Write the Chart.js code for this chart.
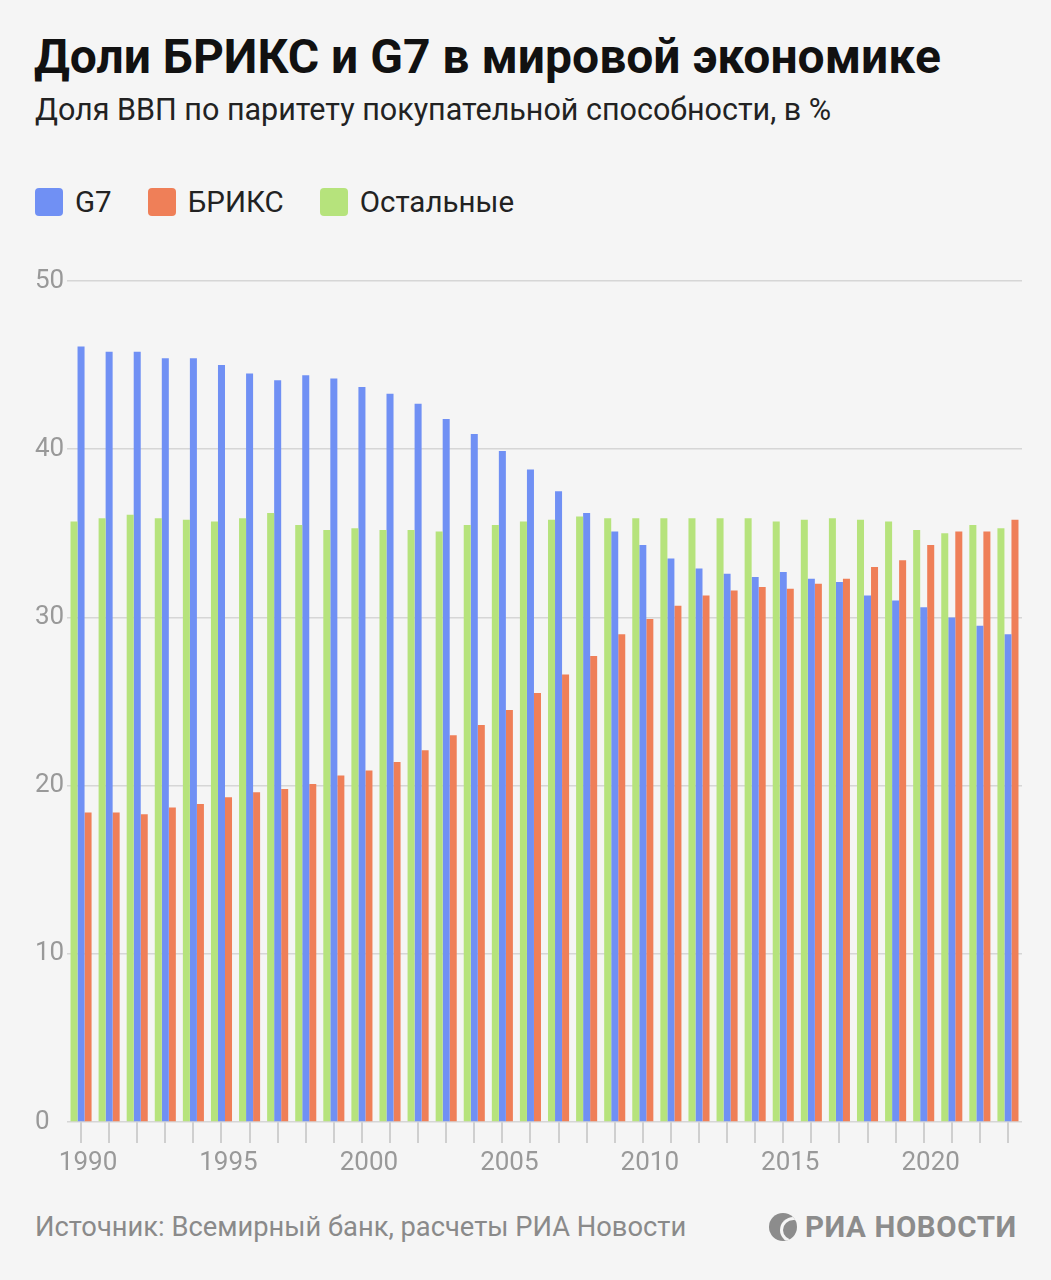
<!DOCTYPE html>
<html lang="ru">
<head>
<meta charset="utf-8">
<script src="https://cdn.jsdelivr.net/npm/chart.js@4.4.1/dist/chart.umd.min.js"></script>
<style>
  html, body { margin:0; padding:0; background:#f5f5f5; }
  body { width:1051px; height:1280px; position:relative; overflow:hidden; font-family: Roboto, "Noto Sans", sans-serif; }
  #title { position:absolute; left:34px; top:28px; font-size:48px; font-weight:700; color:#111; white-space:nowrap; }
  #subtitle { position:absolute; left:35px; top:92px; font-size:30.5px; color:#222; white-space:nowrap; }
  #legend { position:absolute; left:35px; top:185px; display:flex; align-items:center; font-size:29.5px; color:#222; }
  .li { display:flex; align-items:center; margin-right:36px; }
  .sw { width:28px; height:28px; border-radius:4px; margin-right:12px; }
  #wrap { position:absolute; left:0; top:250px; width:1051px; height:940px; }
  #source { position:absolute; left:35px; top:1211px; font-size:27.3px; color:#8a8a8a; white-space:nowrap; }
  #logo { position:absolute; left:769px; top:1210px; display:flex; align-items:center; color:#8c8c8c; font-weight:700; font-size:29.5px; white-space:nowrap; letter-spacing:0.6px; }
  #globe { width:28px; height:28px; border-radius:50%; background:#8c8c8c; margin-right:8px; position:relative; overflow:hidden; }
  #globe::after { content:""; position:absolute; left:11px; top:4px; width:24px; height:20px; border-radius:50%; border:3px solid #f5f5f5; border-right:none; }
</style>
</head>
<body>
<div id="title">Доли БРИКС и G7 в мировой экономике</div>
<div id="subtitle">Доля ВВП по паритету покупательной способности, в %</div>
<div id="legend"></div>
<div id="wrap"><canvas id="c"></canvas></div>
<div id="source">Источник: Всемирный банк, расчеты РИА Новости</div>
<div id="logo"><div id="globe"></div><span>РИА НОВОСТИ</span></div>
<script>
const years = [1990,1991,1992,1993,1994,1995,1996,1997,1998,1999,2000,2001,2002,2003,2004,2005,2006,2007,2008,2009,2010,2011,2012,2013,2014,2015,2016,2017,2018,2019,2020,2021,2022,2023];
const g7 = [46.1,45.8,45.8,45.4,45.4,45.0,44.5,44.1,44.4,44.2,43.7,43.3,42.7,41.8,40.9,39.9,38.8,37.5,36.2,35.1,34.3,33.5,32.9,32.6,32.4,32.7,32.3,32.1,31.3,31.0,30.6,30.0,29.5,29.0];
const brics = [18.4,18.4,18.3,18.7,18.9,19.3,19.6,19.8,20.1,20.6,20.9,21.4,22.1,23.0,23.6,24.5,25.5,26.6,27.7,29.0,29.9,30.7,31.3,31.6,31.8,31.7,32.0,32.3,33.0,33.4,34.3,35.1,35.1,35.8];
const others = [35.7,35.9,36.1,35.9,35.8,35.7,35.9,36.2,35.5,35.2,35.3,35.2,35.2,35.1,35.5,35.5,35.7,35.8,36.0,35.9,35.9,35.9,35.9,35.9,35.9,35.7,35.8,35.9,35.8,35.7,35.2,35.0,35.5,35.3];
const yTicks = [0,10,20,30,40,50];
const seriesNames = ["G7","БРИКС","Остальные"];
const colors = { g7:"#7090f4", brics:"#ef7f58", others:"#b6e37c" };

// legend
const leg = document.getElementById('legend');
[[seriesNames[0],colors.g7],[seriesNames[1],colors.brics],[seriesNames[2],colors.others]].forEach(([n,c])=>{
  const d=document.createElement('div'); d.className='li';
  d.innerHTML='<div class="sw" style="background:'+c+'"></div><span>'+n+'</span>';
  leg.appendChild(d);
});

new Chart(document.getElementById('c'), {
  type:'bar',
  data:{
    labels: years,
    datasets:[
      {label:seriesNames[2], data:others, backgroundColor:colors.others},
      {label:seriesNames[0], data:g7, backgroundColor:colors.g7},
      {label:seriesNames[1], data:brics, backgroundColor:colors.brics}
    ]
  },
  options:{
    responsive:true, maintainAspectRatio:false, animation:false,
    categoryPercentage:0.75, barPercentage:1.0,
    layout:{ padding:{ left:35, right:29, top:31, bottom:0 } },
    plugins:{ legend:{display:false}, tooltip:{enabled:false} },
    scales:{
      x:{
        offset:true,
        grid:{ offset:false, drawOnChartArea:false, drawTicks:true, tickLength:21, color:'#cfcfcf', lineWidth:2 },
        border:{ display:false },
        ticks:{ autoSkip:false, maxRotation:0, padding:5, labelOffset:7, color:'#999', font:{family:'Roboto', size:26},
          callback:function(v,i){ const y=years[i]; return (y%5===0)? String(y):''; } },
        afterFit:function(s){ s.height = 68; }
      },
      y:{
        min:0, max:50,
        afterBuildTicks:function(s){ s.ticks = yTicks.map(v=>({value:v})); },
        grid:{ drawTicks:false, color:'#d6d6d6', lineWidth:1.5 },
        border:{ display:false },
        ticks:{ crossAlign:'far', padding:0, color:'#999', font:{family:'Roboto', size:26} },
        afterFit:function(s){ s.width = 32; }
      }
    }
  }
});
</script>
</body>
</html>
